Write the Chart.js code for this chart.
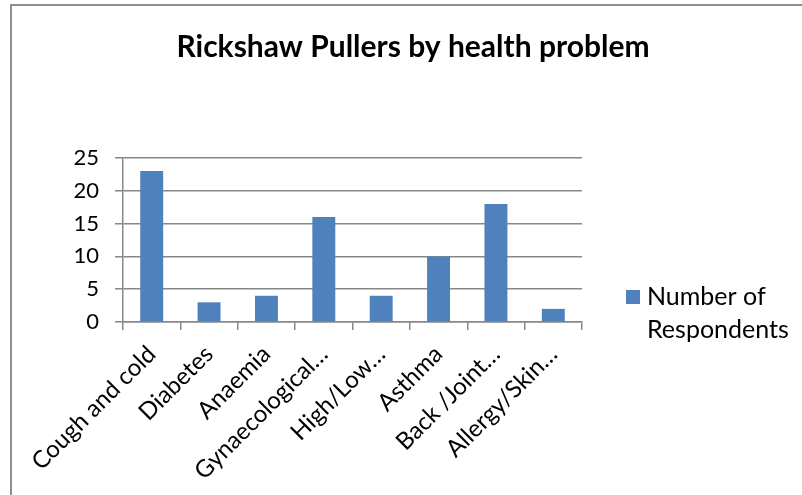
<!DOCTYPE html>
<html>
<head>
<meta charset="utf-8">
<script src="https://cdn.jsdelivr.net/npm/chart.js@4.4.1/dist/chart.umd.min.js"></script>
<style>
  html, body { margin: 0; padding: 0; background: #fff; }
  #graph-container { width: 802px; height: 495px; }
</style>
</head>
<body>
<div id="graph-container"><canvas id="graph"></canvas></div>
<script>
// chart data
const categories = ['Cough and cold', 'Diabetes', 'Anaemia', 'Gynaecological…', 'High/Low…', 'Asthma', 'Back /Joint…', 'Allergy/Skin…'];
const respondents = [23, 3, 4, 16, 4, 10, 18, 2];
const yTicks = [0, 5, 10, 15, 20, 25];
const seriesName = 'Number of Respondents';
const chartTitle = 'Rickshaw Pullers by health problem';

style = {
  barBlue: '#4F81BD',
  gridGray: '#878787',
  frameGray: '#8e8e8e',
  font: "Lato, 'Open Sans', sans-serif"
}

// outer frame and the two-line legend on the right
const frameAndLegend = {
  id: 'frameAndLegend',
  afterDraw(chart) {
    const ctx = chart.ctx;
    ctx.save();
    ctx.strokeStyle = style.frameGray;
    ctx.lineWidth = 2;
    ctx.beginPath();
    ctx.moveTo(11, 495);
    ctx.lineTo(11, 5);
    ctx.lineTo(802, 5);
    ctx.stroke();

    const ds = chart.data.datasets[0];
    const words = ds.label.split(' ');
    const lines = [words.slice(0, 2).join(' '), words.slice(2).join(' ')];
    ctx.fillStyle = ds.backgroundColor;
    ctx.fillRect(626, 290, 14, 14);
    ctx.fillStyle = '#000';
    ctx.font = '25px ' + style.font;
    ctx.textBaseline = 'middle';
    ctx.fillText(lines[0], 647, 297);
    ctx.fillText(lines[1], 647, 330);
    ctx.restore();
  }
};

const config = {
  type: 'bar',
  data: {
    labels: categories,
    datasets: [{
      label: seriesName,
      data: respondents,
      backgroundColor: style.barBlue,
      borderWidth: 0,
      barPercentage: 0.4,
      categoryPercentage: 1.0
    }]
  },
  options: {
    responsive: true,
    maintainAspectRatio: false,
    animation: false,
    layout: { padding: { left: 24, top: 0, right: 0, bottom: 0 } },
    plugins: {
      legend: { display: false },
      tooltip: { enabled: false },
      title: {
        display: true,
        text: chartTitle,
        color: '#000',
        font: { family: style.font, size: 30, weight: 'bold' },
        padding: { top: 29, bottom: 93 }
      }
    },
    scales: {
      x: {
        grid: { drawOnChartArea: false, drawTicks: true, tickLength: 8, color: style.gridGray, lineWidth: 1.5, offset: true },
        border: { color: style.gridGray, width: 1.5 },
        ticks: { color: '#000', font: { family: style.font, size: 24 }, minRotation: 45, maxRotation: 45, autoSkip: false, padding: 10 },
        afterFit(scale) { scale.height = 173; }
      },
      y: {
        min: 0,
        max: 25,
        afterBuildTicks(scale) { scale.ticks = yTicks.map(v => ({ value: v })); },
        grid: { color: style.gridGray, lineWidth: 1.5, tickLength: 8 },
        border: { color: style.gridGray, width: 1.5 },
        ticks: { color: '#000', font: { family: style.font, size: 22 }, padding: 16 },
        afterFit(scale) { scale.width = 99; }
      },
      // empty axis that keeps room for the legend on the right
      legendRoom: {
        position: 'right',
        display: true,
        grid: { display: false },
        border: { display: false },
        ticks: { display: false },
        afterFit(scale) { scale.width = 220; }
      }
    }
  },
  plugins: [frameAndLegend]
};

const graph = new Chart(document.getElementById('graph'), config);
</script>
</body>
</html>
